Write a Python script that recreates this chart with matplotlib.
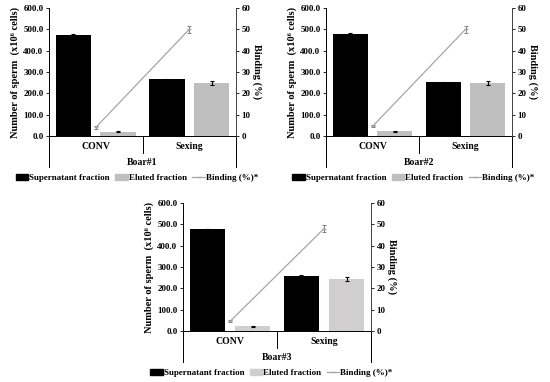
import numpy as np
import matplotlib.pyplot as plt
from matplotlib.lines import Line2D
from matplotlib.patches import Patch

plt.rcParams['font.family'] = ['Liberation Serif', 'DejaVu Serif']
plt.rcParams['font.weight'] = 'bold'
plt.rcParams['axes.labelweight'] = 'bold'

groups = ["CONV", "Sexing"]
boars = ["Boar#1", "Boar#2", "Boar#3"]

# number of sperm (x10^6 cells)
supernatant = [[475, 265], [480, 252], [478, 260]]
supernatant_err = [[2, 2], [2, 2], [2, 2]]
eluted = [[20, 248], [22, 248], [22, 243]]
eluted_err = [[2, 10], [2, 10], [2, 10]]
# binding (%)
binding = [[4.0, 50.0], [4.5, 50.0], [4.5, 48.0]]
binding_err = [[0.5, 1.5], [0.5, 1.5], [0.5, 1.5]]

eluted_colors = ["#bfbfbf", "#bfbfbf", "#d0cece"]

positions = [
    [49/550, 1-136/382, 187/550, 128/382],
    [326/550, 1-136/382, 186/550, 128/382],
    [183/550, 1-331/382, 188/550, 128/382],
]

fig = plt.figure(figsize=(5.5, 3.82), dpi=100)

for i in range(3):
    ax = fig.add_axes(positions[i])
    x = np.arange(len(groups))
    w = 0.38
    ax.bar(x - 0.24, supernatant[i], w, color="black", yerr=supernatant_err[i],
           error_kw=dict(ecolor="black", elinewidth=0.8, capsize=1.5, capthick=0.8))
    ax.bar(x + 0.24, eluted[i], w, color=eluted_colors[i], yerr=eluted_err[i],
           error_kw=dict(ecolor="black", elinewidth=0.8, capsize=1.5, capthick=0.8))
    ax.set_xlim(-0.5, 1.5)
    ax.set_ylim(0, 600)
    ax.set_yticks(np.arange(0, 601, 100))
    ax.set_yticklabels(["%.1f" % v for v in np.arange(0, 601, 100)], fontweight="bold")
    ax.set_xticks([])
    ax.tick_params(axis='y', labelsize=6.5, length=2.5, width=0.6, pad=1.5)
    ax.spines['top'].set_visible(False)
    ax.spines['right'].set_visible(False)
    ax.spines['left'].set_linewidth(0.7)
    ax.spines['bottom'].set_linewidth(0.7)
    ax.set_ylabel("Number of sperm  (x10⁶ cells)", fontsize=7.5, fontweight="bold", labelpad=2)

    # category axis separators
    for xs, yl in [(0, -0.245), (0.5, -0.135), (1, -0.245)]:
        ax.plot([xs, xs], [0, yl], color="black", lw=0.7,
                transform=ax.transAxes, clip_on=False)
    for j, g in enumerate(groups):
        ax.text(0.25 + 0.5*j, -0.085, g, transform=ax.transAxes,
                ha="center", va="center", fontsize=7, fontweight="bold")
    ax.text(0.5, -0.21, boars[i], transform=ax.transAxes,
            ha="center", va="center", fontsize=7, fontweight="bold")

    ax2 = ax.twinx()
    ax2.errorbar(x, binding[i], yerr=binding_err[i], color="#a6a6a6", lw=0.9,
                 marker="_", markersize=3, ecolor="#808080", elinewidth=0.7,
                 capsize=1.5, capthick=0.7)
    ax2.set_ylim(0, 60)
    ax2.set_yticks(np.arange(0, 61, 10))
    ax2.set_yticklabels([str(v) for v in range(0, 61, 10)], fontweight="bold")
    ax2.tick_params(axis='y', labelsize=6.5, length=2.5, width=0.6, pad=1.5)
    for s in ['top', 'left', 'bottom']:
        ax2.spines[s].set_visible(False)
    ax2.spines['right'].set_linewidth(0.7)
    ax2.spines['right'].set_color("#404040")
    ax2.set_ylabel("Binding (%)", fontsize=7.5, fontweight="bold", rotation=270, labelpad=8)

    handles = [
        Patch(color="black"),
        Patch(color=eluted_colors[i]),
        Line2D([], [], color="#a6a6a6", lw=0.9, marker="_", markersize=3),
    ]
    labels = ["Supernatant fraction", "Eluted fraction", "Binding (%)*"]
    ax.legend(handles, labels, loc="center", bbox_to_anchor=(0.47, -0.33),
              ncol=3, frameon=False, prop=dict(size=6.5, weight="bold"),
              handlelength=1.4, handleheight=0.5, handletextpad=0.1,
              columnspacing=0.6, borderaxespad=0)

fig.savefig("out.png", dpi=100)
